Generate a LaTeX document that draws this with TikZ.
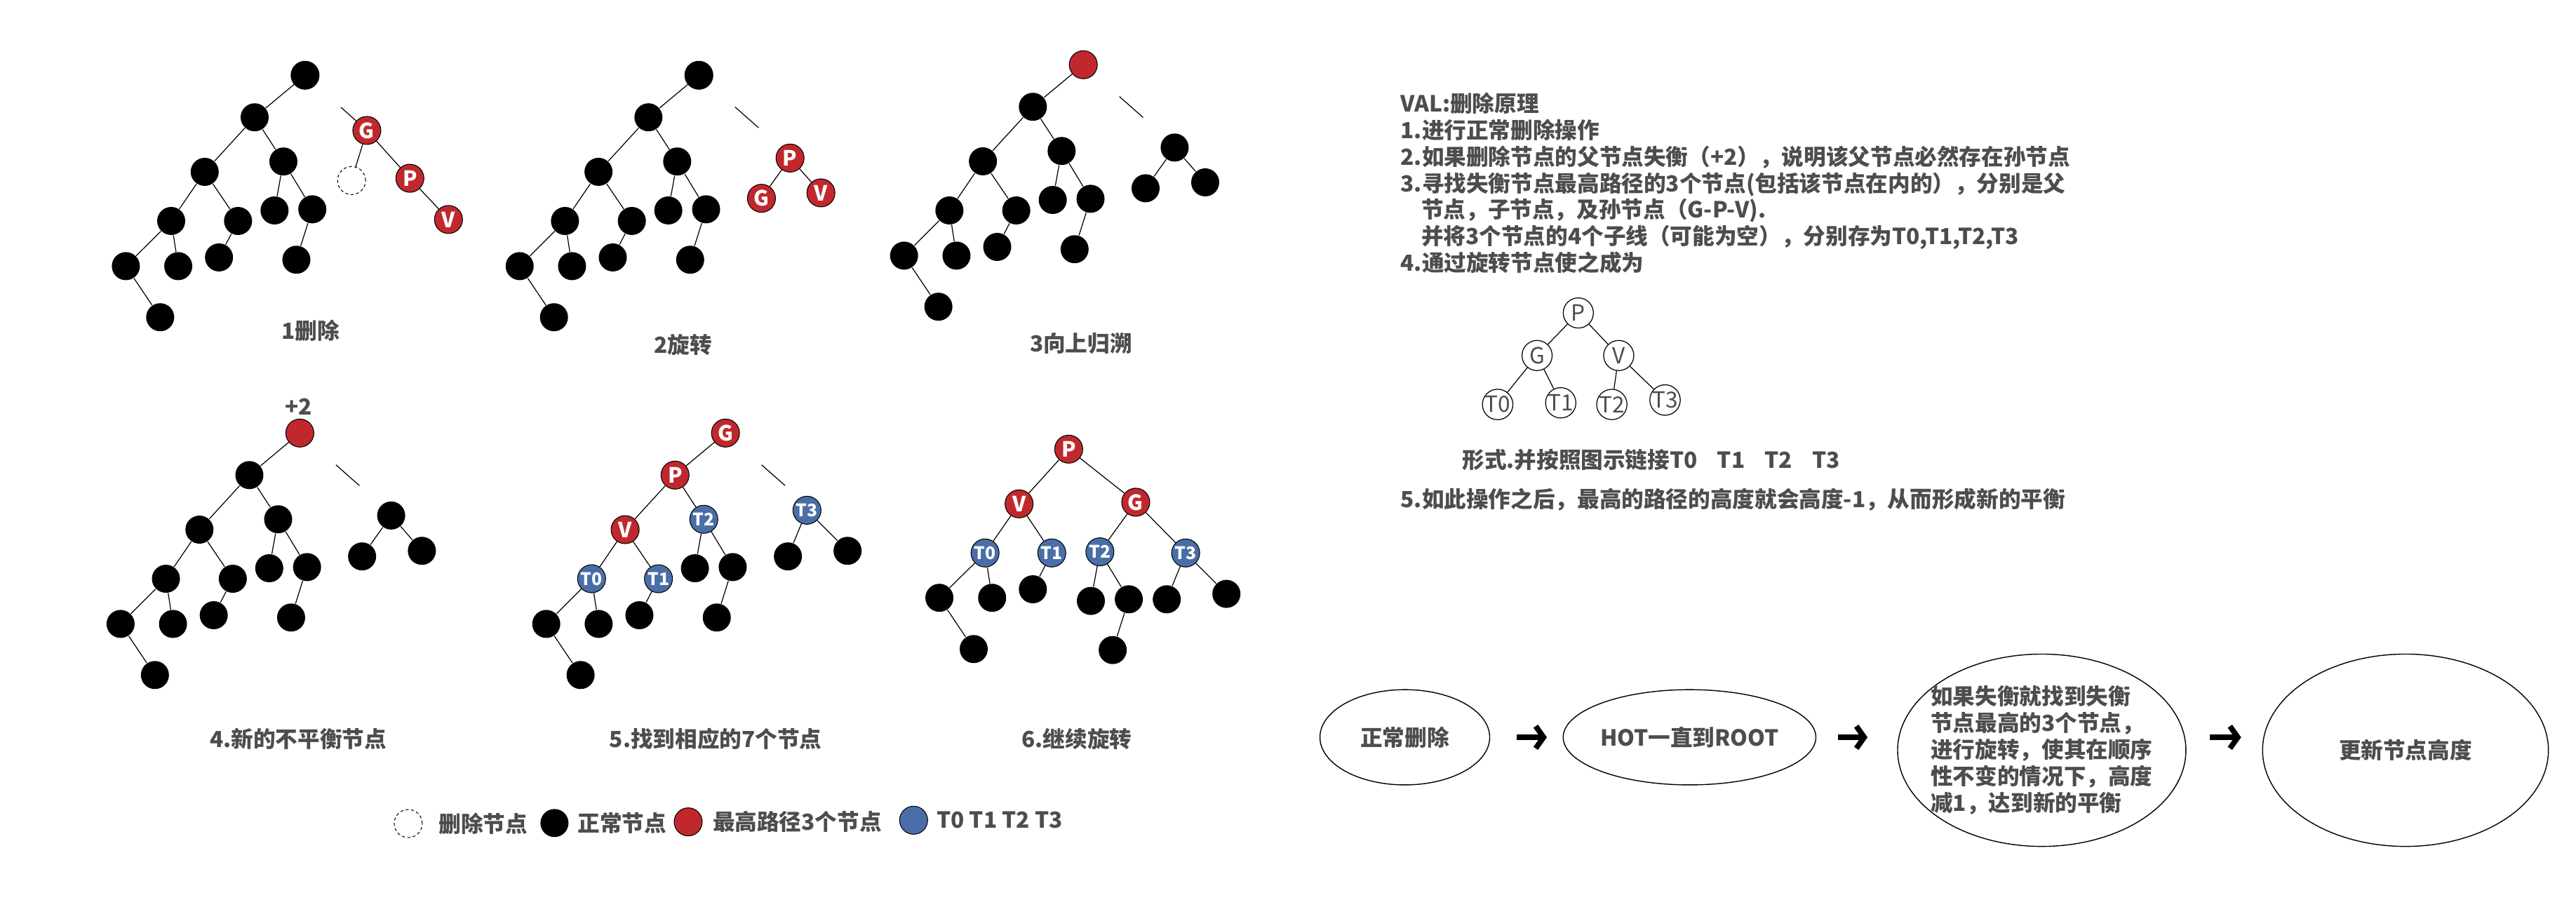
\documentclass[tikz,border=0pt]{standalone}
\usepackage{fontspec}
\newfontfamily\cjk{Noto Sans CJK SC}
\usepackage{tikz}
\usetikzlibrary{positioning,arrows.meta,shapes.geometric}
\definecolor{nodered}{HTML}{C0282D}
\definecolor{nodeblue}{HTML}{4A6EA7}
\definecolor{inkgray}{HTML}{4D4D4D}

\begin{document}
\begin{tikzpicture}[
    x=0.023418cm, y=-0.023418cm,
    bk/.style={circle, fill=black, minimum size=0.4cm, inner sep=0pt},
    rd/.style={circle, draw=black, line width=0.3pt, fill=nodered, minimum size=0.4cm, inner sep=0pt, text=white, font=\cjk\bfseries\fontsize{8.5}{9}\selectfont},
    bl/.style={rd, fill=nodeblue, font=\cjk\bfseries\fontsize{7}{8}\selectfont},
    gone/.style={circle, draw=black, dash pattern=on 1.2pt off 1pt, line width=0.3pt, minimum size=0.4cm, inner sep=0pt},
    ring/.style={circle, draw=black, line width=0.35pt, minimum size=0.43cm, inner sep=0pt, text=inkgray, font=\cjk\fontsize{9}{10}\selectfont},
    edge/.style={line width=0.35pt},
    stub/.style={edge, shorten <=13.7pt},
    txt/.style={text=inkgray, font=\cjk\bfseries\fontsize{9}{10.8}\selectfont},
    oval/.style={ellipse, draw=black, line width=0.4pt, inner sep=0pt, txt, align=left},
    flow/.style={line width=2.2pt, -{Straight Barb[length=3.2pt,width=9pt]}}
]
\useasboundingbox (0,0) rectangle (1568,552);

\foreach \p/\rx/\ry/\rc in {a/185.7/45.8/black, b/425.4/45.8/black, c/659.4/39.4/nodered, d/182.5/263.6/nodered} {
  \begin{scope}[shift={(\rx,\ry)}]
    \node[bk, draw=black, line width=0.3pt, fill=\rc] (\p0) at (0,0) {};
    \node[bk] (\p1) at (-30.7,25.6) {};
    \node[bk] (\p2) at (-61.1,58.8) {};
    \node[bk] (\p3) at (-13.2,52.5) {};
    \node[bk] (\p4) at (-81.5,88.7) {};
    \node[bk] (\p5) at (-40.8,88.7) {};
    \node[bk] (\p6) at (-18.6,82.3) {};
    \node[bk] (\p7) at (4.4,81.6) {};
    \node[bk] (\p8) at (-109.1,116.2) {};
    \node[bk] (\p9) at (-77.2,116.2) {};
    \node[bk] (\p10) at (-52.4,110.9) {};
    \node[bk] (\p11) at (-5.3,112.3) {};
    \node[bk] (\p12) at (-88.2,147.3) {};
  \end{scope}
  \draw[edge] (\p0) -- (\p1) (\p1) -- (\p2) (\p1) -- (\p3) (\p2) -- (\p4) (\p2) -- (\p5)
    (\p3) -- (\p6) (\p3) -- (\p7) (\p4) -- (\p8) (\p4) -- (\p9) (\p5) -- (\p10)
    (\p7) -- (\p11) (\p8) -- (\p12);
}

\node[rd] (aG) at (223.3,79.4) {G};
\node[gone] (aX) at (214,109.9) {};
\node[rd] (aP) at (249.5,108.5) {P};
\node[rd] (aV) at (273,133.6) {V};
\draw[stub] (a0) -- (aG);
\draw[edge] (aG) -- (aX) (aG) -- (aP) (aP) -- (aV);
\node[txt] (cap1) at (189.1,201.4) {1删除};

\coordinate (bE) at (461.8,77.8);
\node[rd] (bP) at (480.9,96.2) {P};
\node[rd] (bG) at (463.5,120.7) {G};
\node[rd] (bV) at (499.7,117.4) {V};
\draw[stub] (b0) -- (bE);
\draw[edge] (bP) -- (bG) (bP) -- (bV);
\node[txt] (cap2) at (415.9,209.9) {2旋转};

\coordinate (cE) at (695.8,71.5);
\node[bk] (cR) at (715,89.8) {};
\node[bk] (cRL) at (697.3,114.6) {};
\node[bk] (cRR) at (733.6,111) {};
\draw[stub] (c0) -- (cE);
\draw[edge] (cR) -- (cRL) (cR) -- (cRR);
\node[txt] (cap3) at (658,209.2) {3向上归溯};

\node[txt] (plus) at (181.6,247.4) {+2};
\coordinate (dE) at (218.8,295.6);
\node[bk] (dR) at (238.1,313.8) {};
\node[bk] (dRL) at (220.4,338.7) {};
\node[bk] (dRR) at (256.8,335.3) {};
\draw[stub] (d0) -- (dE);
\draw[edge] (dR) -- (dRL) (dR) -- (dRR);
\node[txt] (cap4) at (181.5,449.7) {4.新的不平衡节点};

\begin{scope}[shift={(441.6,263.6)}]
  \node[rd] (eG) at (0,0) {G};
  \node[rd] (eP) at (-30.7,25.6) {P};
  \node[rd] (eV) at (-61.1,58.8) {V};
  \node[bl] (eT2) at (-13.2,52.5) {T2};
  \node[bl] (eT0) at (-81.5,88.7) {T0};
  \node[bl] (eT1) at (-40.8,88.7) {T1};
  \node[bk] (e6) at (-18.6,82.3) {};
  \node[bk] (e7) at (4.4,81.6) {};
  \node[bk] (e8) at (-109.1,116.2) {};
  \node[bk] (e9) at (-77.2,116.2) {};
  \node[bk] (e10) at (-52.4,110.9) {};
  \node[bk] (e11) at (-5.3,112.3) {};
  \node[bk] (e12) at (-88.2,147.3) {};
  \coordinate (eE) at (36.3,32);
  \node[bl] (eT3) at (49.6,47) {T3};
  \node[bk] (e13) at (38,75.1) {};
  \node[bk] (e14) at (74.3,71.7) {};
\end{scope}
\draw[stub] (eG) -- (eE);
\draw[edge] (eG) -- (eP) (eP) -- (eV) (eP) -- (eT2) (eV) -- (eT0) (eV) -- (eT1)
  (eT2) -- (e6) (eT2) -- (e7) (eT0) -- (e8) (eT0) -- (e9) (eT1) -- (e10)
  (e7) -- (e11) (e8) -- (e12) (eT3) -- (e13) (eT3) -- (e14);
\node[txt] (cap5) at (435.6,449.7) {5.找到相应的7个节点};

\node[rd] (fP) at (650.5,273.4) {P};
\node[rd] (fV) at (620.3,306.7) {V};
\node[rd] (fG) at (691.3,305.7) {G};
\node[bl] (fT0) at (599.6,336.6) {T0};
\node[bl] (fT1) at (640.2,336.6) {T1};
\node[bl] (fT2) at (669.5,335.9) {T2};
\node[bl] (fT3) at (721.7,336.6) {T3};
\node[bk] (f1) at (571.8,363.9) {};
\node[bk] (f2) at (603.9,363.9) {};
\node[bk] (f3) at (592.7,395.1) {};
\node[bk] (f4) at (628.7,358.7) {};
\node[bk] (f5) at (664,365.8) {};
\node[bk] (f6) at (687.1,364.8) {};
\node[bk] (f7) at (677.3,395.7) {};
\node[bk] (f8) at (710.2,364.8) {};
\node[bk] (f9) at (746.5,361.5) {};
\draw[edge] (fP) -- (fV) (fP) -- (fG) (fV) -- (fT0) (fV) -- (fT1) (fG) -- (fT2) (fG) -- (fT3)
  (fT0) -- (f1) (fT0) -- (f2) (f1) -- (f3) (fT1) -- (f4) (fT2) -- (f5) (fT2) -- (f6)
  (f6) -- (f7) (fT3) -- (f8) (fT3) -- (f9);
\node[txt] (cap6) at (655.4,449.7) {6.继续旋转};

\node[gone] (k1) at (248.5,501.3) {};
\node[txt, right=3pt of k1] (k1t) {删除节点};
\node[bk] (k2) at (337.5,501) {};
\node[txt, right=0pt of k2] (k2t) {正常节点};
\node[rd] (k3) at (418.9,500.3) {};
\node[txt, right=0.6pt of k3] (k3t) {最高路径3个节点};
\node[bl] (k4) at (556.1,499.3) {};
\node[txt, right=0pt of k4] (k4t) {T0 T1 T2 T3};

\node[txt, align=left, anchor=north west, inner sep=0pt] (rule) at (852.3,55.9) {VAL:删除原理\\
1.进行正常删除操作\\
2.如果删除节点的父节点失衡（+2），说明该父节点必然存在孙节点\\
3.寻找失衡节点最高路径的3个节点(包括该节点在内的），分别是父\\
\hspace*{8.4pt}节点，子节点，及孙节点（G-P-V).\\
\hspace*{8.4pt}并将3个节点的4个子线（可能为空），分别存为T0,T1,T2,T3\\
4.通过旋转节点使之成为};

\node[ring] (sP) at (960.7,190.5) {P};
\node[ring] (sG) at (935.6,216.4) {G};
\node[ring] (sV) at (985.3,216.4) {V};
\node[ring] (s0) at (911.6,246.2) {T0};
\node[ring] (s1) at (950,245.2) {T1};
\node[ring] (s2) at (981.1,246.2) {T2};
\node[ring] (s3) at (1013.5,243.5) {T3};
\draw[edge] (sP) -- (sG) (sP) -- (sV) (sG) -- (s0) (sG) -- (s1) (sV) -- (s2) (sV) -- (s3);

\node[txt, anchor=west, inner sep=0pt] (form) at (889.8,279.7) {形式.并按照图示链接T0\hspace{8pt}T1\hspace{8pt}T2\hspace{8pt}T3};
\node[txt, anchor=west, inner sep=0pt] (step5) at (852.3,304.1) {5.如此操作之后，最高的路径的高度就会高度-1，从而形成新的平衡};

\node[oval, minimum width=2.42cm, minimum height=1.358cm] (e1) at (855.1,448.8) {正常删除};
\node[oval, minimum width=3.55cm, minimum height=1.358cm] (e2) at (1028.4,448.8) {HOT一直到ROOT};
\node[oval, inner xsep=-4pt, minimum width=4.11cm, minimum height=2.742cm] (e3) at (1242.8,456.7) {如果失衡就找到失衡\\节点最高的3个节点，\\进行旋转，使其在顺序\\性不变的情况下，高度\\减1，达到新的平衡};
\node[oval, minimum width=4.075cm, minimum height=2.742cm] (e4) at (1464.2,456.7) {更新节点高度};

\draw[flow, shorten <=10.8pt, shorten >=6.4pt] (e1.east) -- (e2.west);
\draw[flow, shorten <=8.9pt, shorten >=12pt] (e2.east) -- (e2.east -| e3.west);
\draw[flow, shorten <=9.5pt, shorten >=8.5pt] (e3.east |- e2.east) -- (e4.west |- e2.east);

\end{tikzpicture}
\end{document}
